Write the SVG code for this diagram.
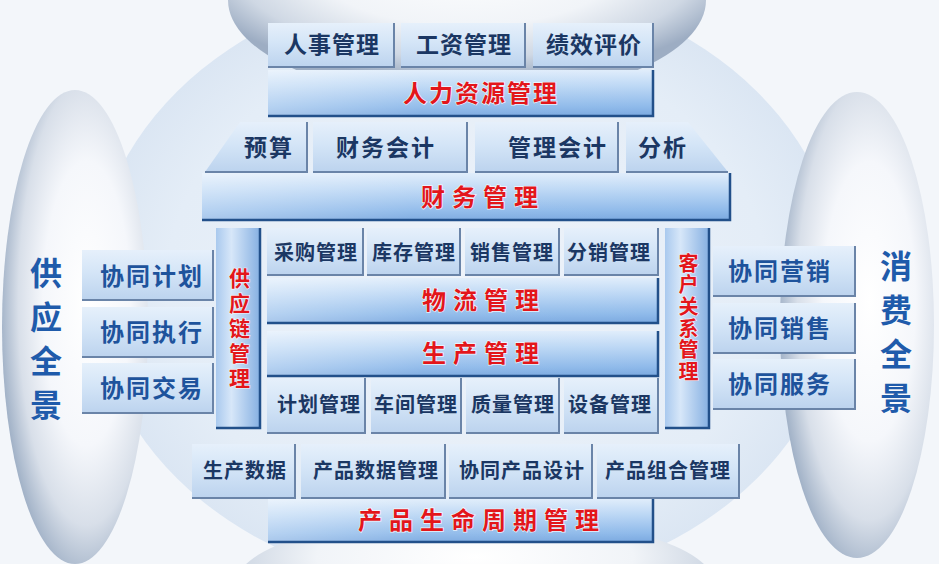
<svg xmlns="http://www.w3.org/2000/svg" width="939" height="564" viewBox="0 0 939 564">
<defs>
<style>
.sub{fill:url(#gSub)}
.bar{fill:url(#gBar)}
.vbar{fill:url(#gVert)}
.gloss{fill:url(#gGloss)}
.sh{fill:none;stroke:#6a84a8;stroke-width:2}
.bsh{fill:none;stroke:#22508a;stroke-width:2.5}
.t{font-family:"Liberation Sans","Noto Sans CJK SC",sans-serif;font-size:23px;fill:#1b3763;text-anchor:middle;dominant-baseline:central;font-weight:700}
.s20{font-size:20px}
.tb{fill:#1e539c;font-size:24px}
.tr{fill:#e3161b;font-weight:700;font-size:24px;stroke:#ffffff;stroke-width:1.4;paint-order:stroke;stroke-opacity:.8}
.vt{font-family:"Liberation Sans","Noto Sans CJK SC",sans-serif;fill:#e3161b;font-weight:700;stroke:#ffffff;stroke-width:1.2;paint-order:stroke;stroke-opacity:.8;text-anchor:middle;writing-mode:vertical-rl;text-orientation:upright}
.big{font-family:"Liberation Sans","Noto Sans CJK SC",sans-serif;font-size:32px;fill:#1f5bab;text-anchor:middle;font-weight:700;writing-mode:vertical-rl;text-orientation:upright}
</style>
<linearGradient id="gSub" x1="0" y1="0" x2="0" y2="1">
<stop offset="0" stop-color="#e6f0fb"/>
<stop offset="0.45" stop-color="#d4e5f7"/>
<stop offset="1" stop-color="#bcd3ee"/>
</linearGradient>
<linearGradient id="gBar" x1="0" y1="0" x2="0" y2="1">
<stop offset="0" stop-color="#e0edfb"/>
<stop offset="0.35" stop-color="#bdd8f5"/>
<stop offset="0.8" stop-color="#8fbaea"/>
<stop offset="1" stop-color="#7ba9e0"/>
</linearGradient>
<linearGradient id="gGloss" x1="0" y1="0" x2="1" y2="0">
<stop offset="0" stop-color="#ffffff" stop-opacity="0.35"/>
<stop offset="0.4" stop-color="#ffffff" stop-opacity="0.05"/>
<stop offset="1" stop-color="#ffffff" stop-opacity="0"/>
</linearGradient>
<linearGradient id="gVert" x1="0" y1="0" x2="1" y2="0">
<stop offset="0" stop-color="#a9c9ee"/>
<stop offset="0.35" stop-color="#d7e7f9"/>
<stop offset="1" stop-color="#86b0e2"/>
</linearGradient>
<radialGradient id="gCircle" cx="0.5" cy="0.5" r="0.5">
<stop offset="0" stop-color="#eef3fa"/>
<stop offset="0.8" stop-color="#e4edf7"/>
<stop offset="1" stop-color="#dbe6f3"/>
</radialGradient>
<radialGradient id="gLens" cx="0.58" cy="0.45" r="0.6">
<stop offset="0" stop-color="#ffffff"/>
<stop offset="0.5" stop-color="#f5f7fb"/>
<stop offset="0.78" stop-color="#d8dfe9"/>
<stop offset="1" stop-color="#9eafc5"/>
</radialGradient>
<radialGradient id="gLensH" cx="0.5" cy="0.3" r="0.6">
<stop offset="0" stop-color="#ffffff"/>
<stop offset="0.55" stop-color="#f1f4f8"/>
<stop offset="0.82" stop-color="#cfd8e4"/>
<stop offset="1" stop-color="#9dadc3"/>
</radialGradient>
</defs>

<g id="background">
<rect x="0" y="0" width="939" height="564" fill="#f3f6fa"/>
<ellipse cx="467" cy="285" rx="375" ry="305" fill="url(#gCircle)"/>
<ellipse cx="467" cy="0" rx="239" ry="100" fill="url(#gLensH)"/>
<ellipse cx="475" cy="585" rx="240" ry="70" fill="url(#gLensH)"/>
</g>

<g id="lens-supply">
<ellipse cx="75" cy="327" rx="73" ry="237" fill="url(#gLens)"/>
<text class="big" x="43" y="345" letter-spacing="12">供应全景</text>
</g>

<g id="lens-consume">
<ellipse cx="857" cy="325" rx="77" ry="233" fill="url(#gLens)"/>
<text class="big" x="893" y="338" letter-spacing="12">消费全景</text>
</g>

<g id="connectors"></g>

<!-- HR -->
<g id="n-renshi"><rect class="sub" x="268" y="23" width="126" height="44"/><path class="sh" d="M394,23V67H268"/><text class="t" x="332" y="45" letter-spacing="1">人事管理</text></g>
<g id="n-gongzi"><rect class="sub" x="401" y="23" width="124" height="44"/><path class="sh" d="M525,23V67H401"/><text class="t" x="464" y="45" letter-spacing="1">工资管理</text></g>
<g id="n-jixiao"><rect class="sub" x="533" y="23" width="120" height="44"/><path class="sh" d="M653,23V67H533"/><text class="t" x="594" y="45" letter-spacing="1">绩效评价</text></g>
<g id="n-hr"><rect class="bar" x="268" y="70" width="385" height="46"/><rect class="gloss" x="268" y="70" width="385" height="46"/><path class="bsh" d="M653,70V116H268"/><text class="t tr" x="481" y="93" letter-spacing="2">人力资源管理</text></g>

<!-- Finance -->
<g id="n-yusuan"><polygon class="sub" points="240,122 307,122 307,172 205,172"/><path class="sh" d="M307,122V172H205"/><text class="t" x="269" y="148" letter-spacing="2">预算</text></g>
<g id="n-caiwukuaiji"><rect class="sub" x="313" y="122" width="154" height="50"/><path class="sh" d="M467,122V172H313"/><text class="t" x="386" y="148" letter-spacing="2">财务会计</text></g>
<g id="n-guanlikuaiji"><rect class="sub" x="475" y="122" width="143" height="50"/><path class="sh" d="M618,122V172H475"/><text class="t" x="558" y="148" letter-spacing="2">管理会计</text></g>
<g id="n-fenxi"><polygon class="sub" points="626,122 688,122 728,172 626,172"/><path class="sh" d="M728,172H626"/><text class="t" x="663" y="148" letter-spacing="2">分析</text></g>
<g id="n-finance"><rect class="bar" x="202" y="173" width="528" height="47"/><rect class="gloss" x="202" y="173" width="528" height="47"/><path class="bsh" d="M730,173V220H202"/><text class="t tr" x="483" y="197" letter-spacing="7">财务管理</text></g>

<!-- Supply chain / CRM vertical -->
<g id="n-scm"><rect class="vbar" x="216" y="228" width="44" height="200"/><path class="bsh" d="M260,228V428H216" stroke-width="2"/>
<text class="vt" x="238" y="330" font-size="21" letter-spacing="4">供应链管理</text></g>
<g id="n-crm"><rect class="vbar" x="665" y="228" width="44" height="200"/><path class="bsh" d="M709,228V428H665" stroke-width="2"/>
<text class="vt" x="687" y="318" font-size="20" letter-spacing="1.6">客户关系管理</text></g>

<!-- Logistics subs -->
<g id="n-caigou"><rect class="sub" x="267" y="228" width="96" height="47"/><path class="sh" d="M363,228V275H267"/><text class="t s20" x="316" y="253" letter-spacing="1">采购管理</text></g>
<g id="n-kucun"><rect class="sub" x="367" y="228" width="93" height="47"/><path class="sh" d="M460,228V275H367"/><text class="t s20" x="414" y="253" letter-spacing="1">库存管理</text></g>
<g id="n-xiaoshou"><rect class="sub" x="465" y="228" width="94" height="47"/><path class="sh" d="M559,228V275H465"/><text class="t s20" x="512" y="253" letter-spacing="1">销售管理</text></g>
<g id="n-fenxiao"><rect class="sub" x="564" y="228" width="94" height="47"/><path class="sh" d="M658,228V275H564"/><text class="t s20" x="609" y="253" letter-spacing="1">分销管理</text></g>
<g id="n-wuliu"><rect class="bar" x="267" y="278" width="391" height="45"/><rect class="gloss" x="267" y="278" width="391" height="45"/><path class="bsh" d="M658,278V323H267"/><text class="t tr" x="484" y="300" letter-spacing="7">物流管理</text></g>
<g id="n-shengchan"><rect class="bar" x="267" y="331" width="391" height="45"/><rect class="gloss" x="267" y="331" width="391" height="45"/><path class="bsh" d="M658,331V376H267"/><text class="t tr" x="484" y="353" letter-spacing="7">生产管理</text></g>

<!-- Production subs -->
<g id="n-jihua"><rect class="sub" x="267" y="378" width="98" height="55"/><path class="sh" d="M365,378V433H267"/><text class="t s20" x="319" y="405" letter-spacing="1">计划管理</text></g>
<g id="n-chejian"><rect class="sub" x="371" y="378" width="90" height="55"/><path class="sh" d="M461,378V433H371"/><text class="t s20" x="416" y="405" letter-spacing="1">车间管理</text></g>
<g id="n-zhiliang"><rect class="sub" x="466" y="378" width="93" height="55"/><path class="sh" d="M559,378V433H466"/><text class="t s20" x="513" y="405" letter-spacing="1">质量管理</text></g>
<g id="n-shebei"><rect class="sub" x="564" y="378" width="94" height="55"/><path class="sh" d="M658,378V433H564"/><text class="t s20" x="610" y="405" letter-spacing="1">设备管理</text></g>

<!-- Left collaboration -->
<g id="n-xtjihua"><rect class="sub" x="82" y="250" width="131" height="50"/><path class="sh" d="M213,250V300H82"/><text class="t tb" x="152" y="276" letter-spacing="2">协同计划</text></g>
<g id="n-xtzhixing"><rect class="sub" x="82" y="307" width="131" height="50"/><path class="sh" d="M213,307V357H82"/><text class="t tb" x="152" y="332" letter-spacing="2">协同执行</text></g>
<g id="n-xtjiaoyi"><rect class="sub" x="82" y="363" width="131" height="50"/><path class="sh" d="M213,363V413H82"/><text class="t tb" x="152" y="388" letter-spacing="2">协同交易</text></g>

<!-- Right collaboration -->
<g id="n-xtyingxiao"><rect class="sub" x="713" y="246" width="142" height="50"/><path class="sh" d="M855,246V296H713"/><text class="t tb" x="780" y="271" letter-spacing="2">协同营销</text></g>
<g id="n-xtxiaoshou"><rect class="sub" x="713" y="303" width="142" height="50"/><path class="sh" d="M855,303V353H713"/><text class="t tb" x="780" y="328" letter-spacing="2">协同销售</text></g>
<g id="n-xtfuwu"><rect class="sub" x="713" y="359" width="142" height="50"/><path class="sh" d="M855,359V409H713"/><text class="t tb" x="780" y="384" letter-spacing="2">协同服务</text></g>

<!-- PLM -->
<g id="n-scsj"><rect class="sub" x="192" y="444" width="103" height="54"/><path class="sh" d="M295,444V498H192"/><text class="t s20" x="245" y="471" letter-spacing="1">生产数据</text></g>
<g id="n-cpsjgl"><rect class="sub" x="301" y="444" width="144" height="54"/><path class="sh" d="M445,444V498H301"/><text class="t s20" x="376" y="471" letter-spacing="1">产品数据管理</text></g>
<g id="n-xtcpsj"><rect class="sub" x="449" y="444" width="143" height="54"/><path class="sh" d="M592,444V498H449"/><text class="t s20" x="522" y="471" letter-spacing="1">协同产品设计</text></g>
<g id="n-cpzhgl"><rect class="sub" x="597" y="444" width="142" height="54"/><path class="sh" d="M739,444V498H597"/><text class="t s20" x="668" y="471" letter-spacing="1">产品组合管理</text></g>
<g id="n-plm"><rect class="bar" x="268" y="499" width="385" height="43"/><rect class="gloss" x="268" y="499" width="385" height="43"/><path class="bsh" d="M653,499V542H268"/><text class="t tr" x="482" y="520" letter-spacing="7">产品生命周期管理</text></g>
</svg>
